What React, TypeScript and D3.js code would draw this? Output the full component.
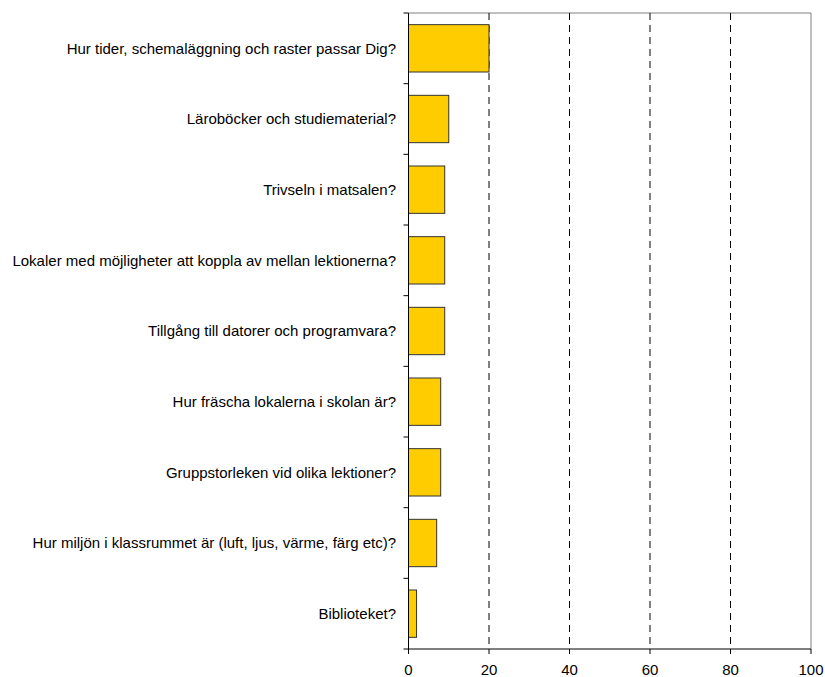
import React from "react";
import * as d3 from "d3";

const categories = [
  "Hur tider, schemaläggning och raster passar Dig?",
  "Läroböcker och studiematerial?",
  "Trivseln i matsalen?",
  "Lokaler med möjligheter att koppla av mellan lektionerna?",
  "Tillgång till datorer och programvara?",
  "Hur fräscha lokalerna i skolan är?",
  "Gruppstorleken vid olika lektioner?",
  "Hur miljön i klassrummet är (luft, ljus, värme, färg etc)?",
  "Biblioteket?",
];
const values = [20, 10, 9, 9, 9, 8, 8, 7, 2];
const xTicks = [0, 20, 40, 60, 80, 100];

export default function App() {
  const W = 825, H = 677;
  const left = 408.5, right = 811, top = 13, bottom = 649;
  const x = d3.scaleLinear().domain([0, 100]).range([left, right]);
  const y = d3.scaleBand<string>().domain(categories).range([top, bottom]).paddingInner(0.33).paddingOuter(0.165);
  const step = (bottom - top) / categories.length;
  const font = "Liberation Sans, Arial, sans-serif";
  return (
    <svg width={W} height={H} style={{ position: "absolute", left: 0, top: 0 }}>
      <rect x={0} y={0} width={W} height={H} fill="#fff" />
      {/* top & right border */}
      <line x1={left} x2={right} y1={top} y2={top} stroke="#808080" strokeWidth={1} />
      <line x1={right} x2={right} y1={top} y2={bottom} stroke="#808080" strokeWidth={1} />
      {/* gridlines */}
      {xTicks.filter(t => t > 0 && t < 100).map(t => (
        <line key={t} x1={x(t)} x2={x(t)} y1={top} y2={bottom} stroke="#000" strokeWidth={1} strokeDasharray="7,5" />
      ))}
      {/* bars */}
      {categories.map((c, i) => (
        <rect key={c} x={x(0)} y={y(c)!} width={x(values[i]) - x(0)} height={y.bandwidth()}
          fill="#FFCC00" stroke="#333" strokeWidth={1} />
      ))}
      {/* y axis */}
      <line x1={left} x2={left} y1={top} y2={bottom} stroke="#000" strokeWidth={1} />
      {d3.range(categories.length + 1).map(i => (
        <line key={i} x1={left - 5} x2={left} y1={top + i * step} y2={top + i * step} stroke="#000" />
      ))}
      {categories.map(c => (
        <text key={c} x={396} y={y(c)! + y.bandwidth() / 2} dy="0.35em" textAnchor="end"
          fontFamily={font} fontSize={15} fill="#000">{c}</text>
      ))}
      {/* x axis */}
      <line x1={left} x2={right} y1={bottom} y2={bottom} stroke="#000" strokeWidth={1} />
      {xTicks.map(t => (
        <g key={t}>
          <line x1={x(t)} x2={x(t)} y1={bottom} y2={bottom + 5} stroke="#000" />
          <text x={x(t)} y={bottom + 26} textAnchor="middle" fontFamily={font} fontSize={15} fill="#000">{t}</text>
        </g>
      ))}
    </svg>
  );
}
